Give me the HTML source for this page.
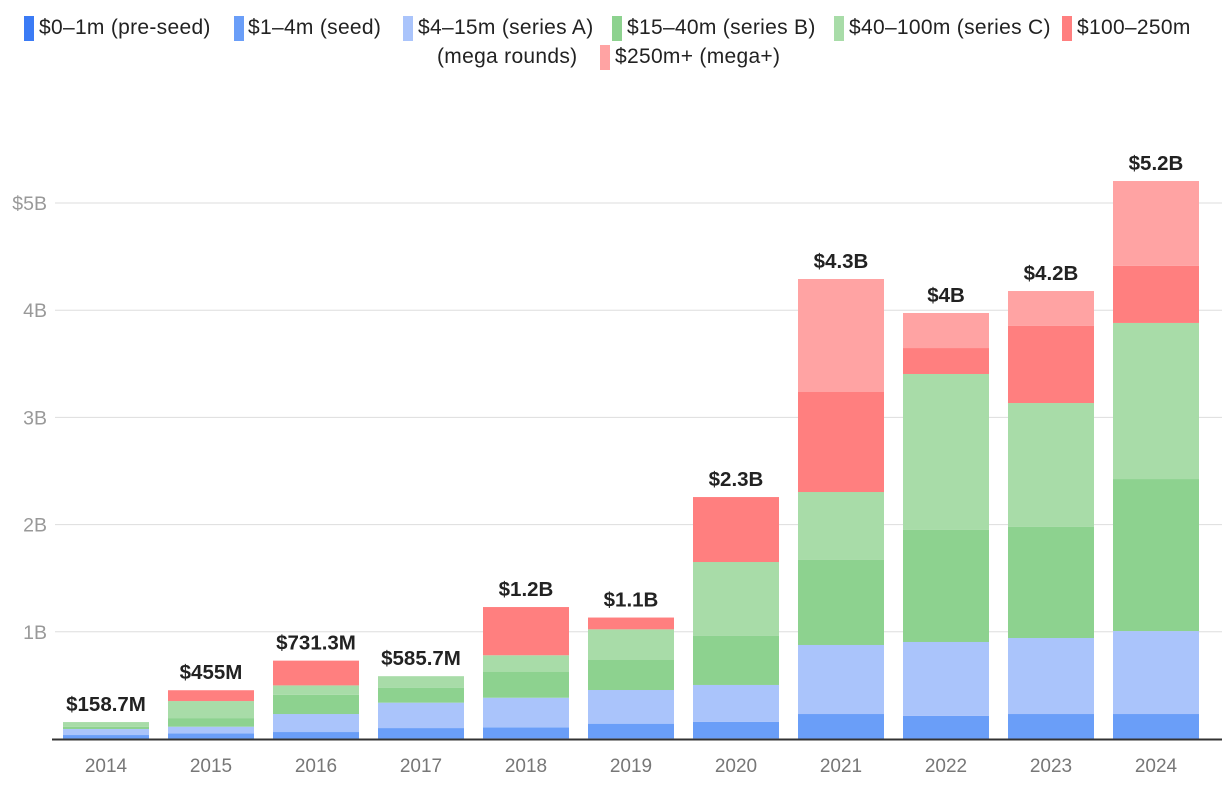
<!DOCTYPE html>
<html><head><meta charset="utf-8">
<style>
body{margin:0;width:1222px;height:802px;background:#fff;overflow:hidden;font-family:"Liberation Sans",sans-serif;}
.lg{position:absolute;font-size:21px;letter-spacing:0.3px;color:#222;white-space:nowrap;line-height:24px;}
.sw{position:absolute;width:10px;height:25px;}
</style></head><body>
<div id="legend">
<div class="sw" style="left:24px;top:16px;background:#3b7bf5"></div><div class="lg" style="left:39px;top:16px">$0–1m (pre-seed)</div>
<div class="sw" style="left:234px;top:16px;background:#6a9ef8"></div><div class="lg" style="left:248px;top:16px">$1–4m (seed)</div>
<div class="sw" style="left:403px;top:16px;background:#aac4fb"></div><div class="lg" style="left:418px;top:16px">$4–15m (series A)</div>
<div class="sw" style="left:612px;top:16px;background:#8dd28f"></div><div class="lg" style="left:627px;top:16px">$15–40m (series B)</div>
<div class="sw" style="left:834px;top:16px;background:#a8dca8"></div><div class="lg" style="left:849px;top:16px">$40–100m (series C)</div>
<div class="sw" style="left:1062px;top:16px;background:#ff7f7f"></div><div class="lg" style="left:1077px;top:16px">$100–250m</div>
<div class="lg" style="left:437px;top:45px">(mega rounds)</div>
<div class="sw" style="left:600px;top:45px;background:#ffa3a3"></div><div class="lg" style="left:615px;top:45px">$250m+ (mega+)</div>
</div>
<svg id="chart" width="1222" height="802" style="position:absolute;left:0;top:0;pointer-events:none"></svg>
<script>
const years=["2014","2015","2016","2017","2018","2019","2020","2021","2022","2023","2024"];
const preSeed=[5,5,5,5,6,6,7,8,8,8,8];
const seed=[32,48,60,97,103,137,152,225,207,225,225];
const seriesA=[56,62,168,237,276,314,345,644,690,709,774];
const seriesB=[22,80,180,140,240,280,457,793,1045,1036,1418];
const seriesC=[43,159,87,107,156,286,690,634,1455,1156,1456];
const mega=[0,101,231,0,450,110,606,933,242,719,532];
const megaPlus=[0,0,0,0,0,0,0,1054,327,326,792];
const totals=["$158.7M","$455M","$731.3M","$585.7M","$1.2B","$1.1B","$2.3B","$4.3B","$4B","$4.2B","$5.2B"];
const yTicks=[1000,2000,3000,4000,5000];
const yTickLabels=["1B","2B","3B","4B","$5B"];
const series=[preSeed,seed,seriesA,seriesB,seriesC,mega,megaPlus];
const names=["pre-seed","seed","series-a","series-b","series-c","mega","mega-plus"];
const colors=["#3b7bf5","#6a9ef8","#aac4fb","#8dd28f","#a8dca8","#ff7f7f","#ffa3a3"];
const NS="http://www.w3.org/2000/svg";
const svg=document.getElementById("chart");
const y0=739,pxPerM=107.2/1000;
function yS(v){return y0-v*pxPerM;}
function xS(i){return 106+i*105;}
const bw=86;
function mk(t,a){const e=document.createElementNS(NS,t);for(const k in a)e.setAttribute(k,a[k]);svg.appendChild(e);return e;}
yTicks.forEach((t,i)=>{
 const l=mk("line",{x1:55,x2:1222,y1:yS(t),y2:yS(t),stroke:"#dddddd","stroke-width":1});
 
 
 const tx=mk("text",{x:47,y:yS(t)+7,"text-anchor":"end","font-size":19.5,fill:"#999","font-family":"Liberation Sans, sans-serif"});
 tx.textContent=yTickLabels[i];
 
 
});
years.forEach((yr,i)=>{
 let cum=0;
 series.forEach((s,k)=>{
  const v=s[i]; if(v<=0) return;
  const r=mk("rect",{x:xS(i)-bw/2,y:yS(cum+v),width:bw,height:v*pxPerM,fill:colors[k]});
  
  
  cum+=v;
 });
 const t=mk("text",{x:xS(i),y:yS(cum)-11,"text-anchor":"middle","font-size":20.5,"font-weight":"bold",fill:"#222","font-family":"Liberation Sans, sans-serif"});
 t.textContent=totals[i];
 
 
 const xl=mk("text",{x:xS(i),y:772,"text-anchor":"middle","font-size":19,fill:"#777","font-family":"Liberation Sans, sans-serif"});
 xl.textContent=yr;
 
 
});
const ax=mk("line",{x1:52,x2:1222,y1:y0+0.5,y2:y0+0.5,stroke:"#333","stroke-width":2});


</script>
</body></html>
